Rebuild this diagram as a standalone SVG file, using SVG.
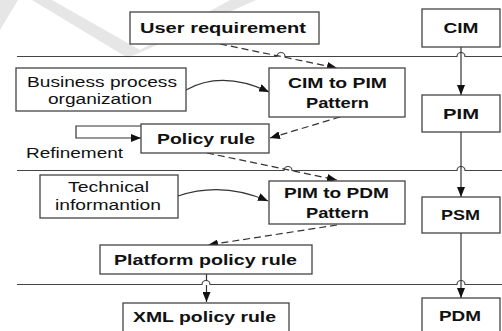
<svg xmlns="http://www.w3.org/2000/svg" width="502" height="331" viewBox="0 0 502 331">
<style>
.box{fill:#fff;stroke:#444;stroke-width:1.3}
.b{font-family:"Liberation Sans",Arial,sans-serif;font-weight:bold;font-size:15.5px;fill:#111;text-anchor:middle}
.r{font-family:"Liberation Sans",Arial,sans-serif;font-size:15.5px;fill:#111;text-anchor:middle}
.sep{fill:none;stroke:#444;stroke-width:1.2}
.c{fill:none;stroke:#333;stroke-width:1.2}
.d{fill:none;stroke:#333;stroke-width:1.2;stroke-dasharray:7 4}
</style>
<defs>
<marker id="ah" viewBox="0 0 10 8" refX="10" refY="4" markerWidth="10" markerHeight="8" markerUnits="userSpaceOnUse" orient="auto">
<path d="M0,0 L10,4 L0,8 Z" fill="#111"/>
</marker>
</defs>
<rect width="502" height="331" fill="#fff"/>
<g id="watermark" fill="#e6e6e6">
<polygon points="0,0 18,0 0,30"/>
<polygon points="32,0 52,0 140,50 128,58"/>
<polygon points="128,58 140,50 230,0 256,0"/>
</g>
<g id="separators">
<path class="sep" d="M17,56.5 H277 A4,4 0 0 1 285,56.5 H457 A4,4 0 0 1 465,56.5 H502"/>
<path class="sep" d="M17,170.5 H284 A4,4 0 0 1 292,170.5 H457 A4,4 0 0 1 465,170.5 H502"/>
<path class="sep" d="M17,284.5 H202 A4,4 0 0 1 210,284.5 H457 A4,4 0 0 1 465,284.5 H502"/>
</g>
<g id="connectors">
<path class="d" d="M220,44 L337,68" marker-end="url(#ah)"/>
<path class="c" d="M186,90 Q222,70 269,92" marker-end="url(#ah)"/>
<path class="d" d="M340,117 L270,138" marker-end="url(#ah)"/>
<path class="c" d="M141,126 H76 V138 H141" marker-end="url(#ah)"/>
<path class="d" d="M207,153 L337,180" marker-end="url(#ah)"/>
<path class="c" d="M178,196 Q222,181 268,201" marker-end="url(#ah)"/>
<path class="d" d="M337,225 L208,245" marker-end="url(#ah)"/>
<path class="d" d="M206.5,274 V302" marker-end="url(#ah)"/>
<path class="c" d="M461,47 V95" marker-end="url(#ah)"/>
<path class="c" d="M461,132 V197" marker-end="url(#ah)"/>
<path class="c" d="M461,233 V298" marker-end="url(#ah)"/>
</g>
<g id="user-requirement">
<rect class="box" x="130" y="12" width="189" height="32"/>
<text class="b" x="223" y="33" textLength="166" lengthAdjust="spacingAndGlyphs">User requirement</text>
</g>
<g id="cim">
<rect class="box" x="422" y="9" width="78" height="38"/>
<text class="b" x="461" y="33" textLength="35" lengthAdjust="spacingAndGlyphs">CIM</text>
</g>
<g id="business-process">
<rect class="box" x="16" y="68" width="170" height="43"/>
<text class="r" x="102" y="87" textLength="150" lengthAdjust="spacingAndGlyphs">Business process</text>
<text class="r" x="100" y="104" textLength="104" lengthAdjust="spacingAndGlyphs">organization</text>
</g>
<g id="cim-to-pim">
<rect class="box" x="269" y="68" width="136" height="49"/>
<text class="b" x="337.5" y="88" textLength="99" lengthAdjust="spacingAndGlyphs">CIM to PIM</text>
<text class="b" x="337.5" y="108" textLength="63" lengthAdjust="spacingAndGlyphs">Pattern</text>
</g>
<g id="pim">
<rect class="box" x="422" y="95" width="78" height="37"/>
<text class="b" x="461" y="119" textLength="36" lengthAdjust="spacingAndGlyphs">PIM</text>
</g>
<g id="policy-rule">
<rect class="box" x="141" y="124" width="128" height="29"/>
<text class="b" x="206" y="144" textLength="98" lengthAdjust="spacingAndGlyphs">Policy rule</text>
</g>
<g id="refinement">
<text class="r" x="74.5" y="158" textLength="97" lengthAdjust="spacingAndGlyphs">Refinement</text>
</g>
<g id="technical-information">
<rect class="box" x="40" y="175" width="138" height="43"/>
<text class="r" x="108.5" y="192" textLength="81" lengthAdjust="spacingAndGlyphs">Technical</text>
<text class="r" x="108" y="210" textLength="106" lengthAdjust="spacingAndGlyphs">informantion</text>
</g>
<g id="pim-to-pdm">
<rect class="box" x="269" y="181" width="136" height="43"/>
<text class="b" x="336.5" y="198" textLength="105" lengthAdjust="spacingAndGlyphs">PIM to PDM</text>
<text class="b" x="337.5" y="218" textLength="63" lengthAdjust="spacingAndGlyphs">Pattern</text>
</g>
<g id="psm">
<rect class="box" x="422" y="197" width="78" height="36"/>
<text class="b" x="460.5" y="220" textLength="39" lengthAdjust="spacingAndGlyphs">PSM</text>
</g>
<g id="platform-policy-rule">
<rect class="box" x="100" y="245" width="212" height="29"/>
<text class="b" x="205.5" y="265" textLength="183" lengthAdjust="spacingAndGlyphs">Platform policy rule</text>
</g>
<g id="xml-policy-rule">
<rect class="box" x="123" y="303" width="166" height="32"/>
<text class="b" x="204.5" y="322" textLength="143" lengthAdjust="spacingAndGlyphs">XML policy rule</text>
</g>
<g id="pdm">
<rect class="box" x="422" y="298" width="78" height="37"/>
<text class="b" x="460" y="321" textLength="42" lengthAdjust="spacingAndGlyphs">PDM</text>
</g>
</svg>
